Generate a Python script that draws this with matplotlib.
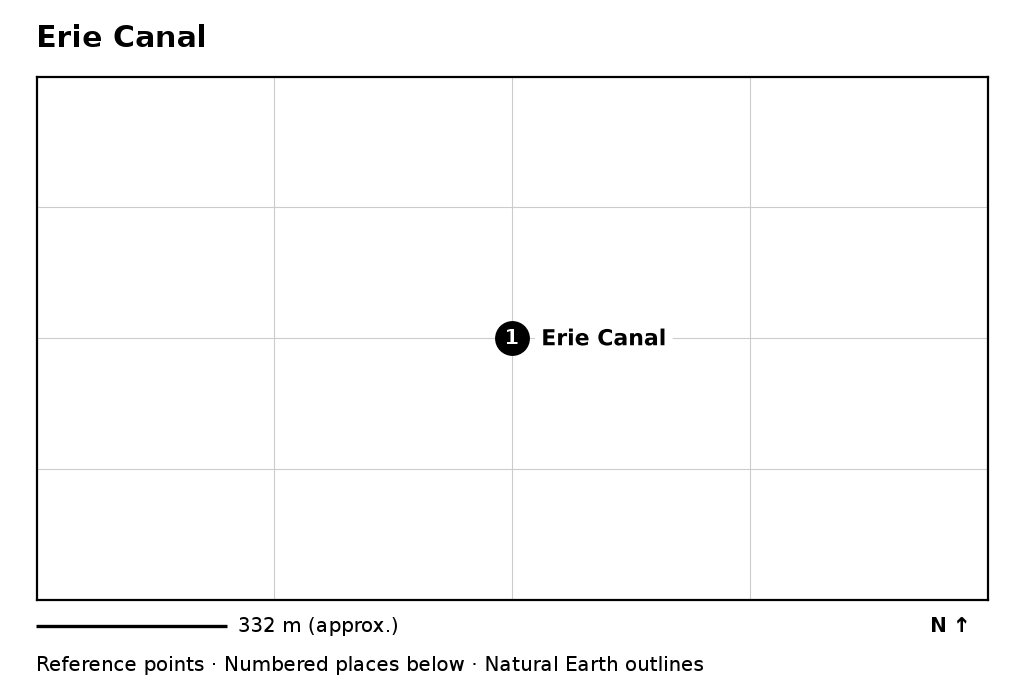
import matplotlib
matplotlib.use("Agg")
import matplotlib.pyplot as plt
import matplotlib.patheffects as pe

plt.rcParams["text.hinting"] = "native"
plt.rcParams["text.hinting_factor"] = 2

W, H = 1024, 692

title = "Erie Canal"
place_x = [0.5]
place_y = [0.5]
place_num = ["1"]
place_names = ["Erie Canal"]
grid_x = [0.25, 0.5, 0.75]
grid_y = [0.25, 0.5, 0.75]
scale_text = "332 m (approx.)"
north_text = "N ↑"
caption = "Reference points · Numbered places below · Natural Earth outlines"

fig = plt.figure(figsize=(W / 100, H / 100), dpi=100)
ax = fig.add_axes([36.5 / W, 1 - 600 / H, 951.5 / W, 523.5 / H])
ax.set_xlim(0, 1)
ax.set_ylim(0, 1)
ax.set_xticks([])
ax.set_yticks([])
for s in ax.spines.values():
    s.set_linewidth(1.6)
    s.set_color("black")

for x in grid_x:
    ax.axvline(x, color="#cccccc", lw=0.8, zorder=1)
for y in grid_y:
    ax.axhline(y, color="#cccccc", lw=0.8, zorder=1)

for x, y, n, name in zip(place_x, place_y, place_num, place_names):
    ax.annotate(name, (x, y), xytext=(29, -1), textcoords="offset pixels", fontsize=15.84, fontweight="bold",
                ha="left", va="center", zorder=2,
                path_effects=[pe.withStroke(linewidth=12, foreground="white")])
    ax.text(x, y, n, color="white", fontsize=14.4, fontweight="bold", ha="center", va="center", zorder=4)

ax.scatter(place_x, place_y, s=630, color="black", linewidths=0, zorder=3)

fig.text(36 / W, 1 - 38.5 / H, title, fontsize=21.6, fontweight="bold", ha="left", va="center")

# scale bar and north arrow under the frame
fig.add_artist(plt.Line2D([36 / W, 227 / W], [1 - 626 / H, 1 - 626 / H], color="black", lw=2.4,
                          solid_capstyle="butt"))
fig.text(238 / W, 1 - 626 / H, scale_text, fontsize=14.4, ha="left", va="center")
fig.text(970 / W, 1 - 626 / H, north_text, fontsize=14.4, fontweight="bold", ha="right", va="center")
fig.text(36 / W, 1 - 665.5 / H, caption, fontsize=14.4, ha="left", va="center")

fig.savefig("out.png", dpi=100)
